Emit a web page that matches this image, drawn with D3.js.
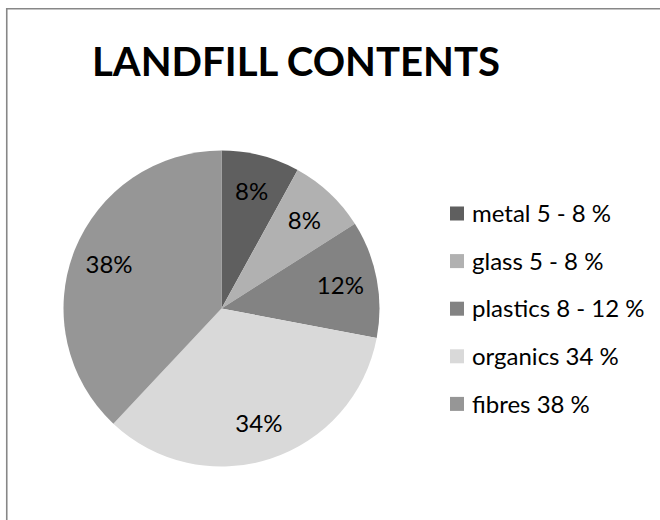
<!DOCTYPE html>
<html>
<head>
<meta charset="utf-8">
<script src="https://cdn.jsdelivr.net/npm/d3@7/dist/d3.min.js"></script>
<style>
  html, body { margin: 0; padding: 0; background: #ffffff; }
  svg { display: block; }
</style>
</head>
<body>
<svg id="chart" width="660" height="520"></svg>
<script>
// ---- data ----
const title = "LANDFILL CONTENTS";
const categories = ["metal", "glass", "plastics", "organics", "fibres"];
const values = [8, 8, 12, 34, 38];
const legendLabels = ["metal 5 - 8 %", "glass 5 - 8 %", "plastics 8 - 12 %", "organics 34 %", "fibres 38 %"];
const colors = ["#5f5f5f", "#b1b1b1", "#838383", "#d9d9d9", "#969696"];

// ---- layout ----
const W = 660, H = 520;
const cx = 221.5, cy = 308.5, R = 158;
const labelR = 121;
const fontFamily = "Lato, 'Open Sans', 'DejaVu Sans', sans-serif";

const svg = d3.select("#chart");
svg.append("rect").attr("width", W).attr("height", H).attr("fill", "#ffffff");

// chart border (only top and left visible, cropped at right/bottom)
svg.append("path")
  .attr("d", `M6.75,${H + 10} V8.75 H${W + 10}`)
  .attr("fill", "none")
  .attr("stroke", "#878787")
  .attr("stroke-width", 1.6);

// title
svg.append("text")
  .attr("x", 92)
  .attr("y", 76)
  .attr("font-family", fontFamily)
  .attr("font-weight", 700)
  .attr("font-size", 40.5)
  .attr("fill", "#000")
  .attr("textLength", 408)
  .attr("lengthAdjust", "spacingAndGlyphs")
  .text(title);

const color = d3.scaleOrdinal().domain(categories).range(colors);
const data = categories.map((c, i) => ({ cat: c, value: values[i], legend: legendLabels[i] }));

const pie = d3.pie().value(d => d.value).sort(null);
const arcs = pie(data);
const arc = d3.arc().innerRadius(0).outerRadius(R);
const labelArc = d3.arc().innerRadius(labelR).outerRadius(labelR);
const total = d3.sum(values);

const g = svg.append("g").attr("transform", `translate(${cx},${cy})`);
g.selectAll("path.slice")
  .data(arcs)
  .join("path")
  .attr("class", "slice")
  .attr("d", arc)
  .attr("fill", d => color(d.data.cat));

g.selectAll("text.lbl")
  .data(arcs)
  .join("text")
  .attr("class", "lbl")
  .attr("transform", d => `translate(${labelArc.centroid(d)})`)
  .attr("text-anchor", "middle")
  .attr("dy", "0.36em")
  .attr("font-family", fontFamily)
  .attr("font-size", 24)
  .attr("fill", "#000")
  .text(d => Math.round(d.data.value / total * 100) + "%");

// legend
const legendY = d3.scalePoint().domain(categories).range([213.5, 403.9]);
const lg = svg.append("g");
const rows = lg.selectAll("g.row")
  .data(data)
  .join("g")
  .attr("class", "row")
  .attr("transform", d => `translate(450,${legendY(d.cat)})`);
rows.append("rect")
  .attr("x", 0).attr("y", -7)
  .attr("width", 14).attr("height", 14)
  .attr("fill", d => color(d.cat));
rows.append("text")
  .attr("x", 22)
  .attr("dy", "0.36em")
  .attr("font-family", fontFamily)
  .attr("font-size", 24)
  .attr("fill", "#000")
  .text(d => d.legend);
</script>
</body>
</html>
